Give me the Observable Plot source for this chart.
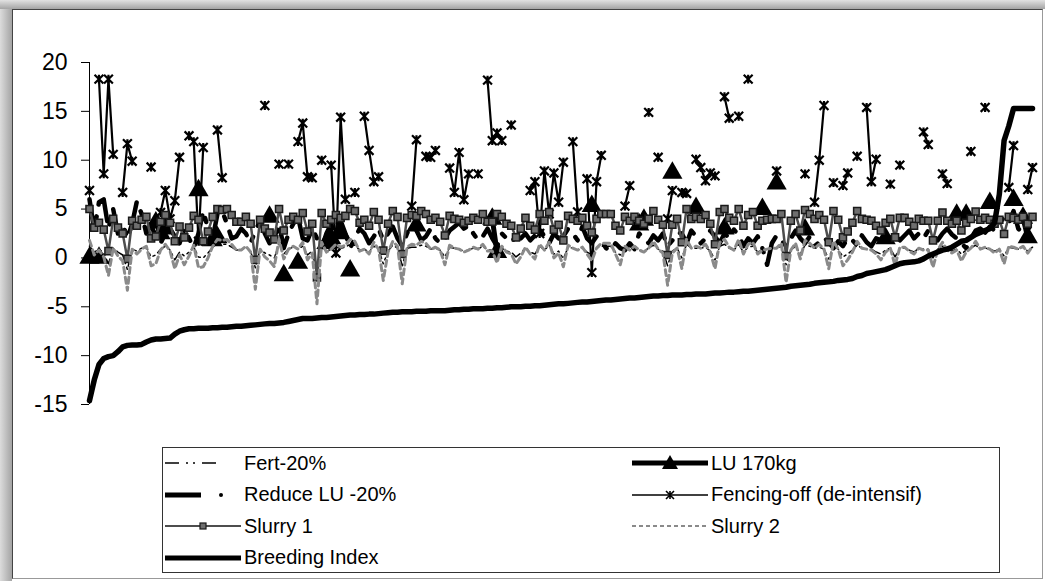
<!DOCTYPE html>
<html><head><meta charset="utf-8">
<script src="https://cdn.jsdelivr.net/npm/d3@7"></script>
<script src="https://cdn.jsdelivr.net/npm/@observablehq/plot@0.6"></script>
<style>
html,body{margin:0;padding:0;background:#fff;}
#page{position:relative;width:1045px;height:581px;overflow:hidden;font-family:"Liberation Sans",Arial,sans-serif;background:#fff;}
.abs{position:absolute;}
#lstrip{left:0;top:0;width:12px;height:581px;background:linear-gradient(to right,#dcdcdc,#a4a4a4);}
#tstrip{left:0;top:0;width:1045px;height:9px;background:linear-gradient(to bottom,#e2e2e2,#a4a4a4);}
#border{left:12px;top:9px;width:1031px;height:570px;box-sizing:border-box;border-top:1px solid #444;border-left:1px solid #444;border-right:1px solid #999;border-bottom:1px solid #999;}
#chart{left:0;top:0;}
#legend{left:162px;top:447px;width:838px;height:126px;box-sizing:border-box;border:1px solid #333;background:#fff;}
.item{position:absolute;height:24px;display:flex;align-items:center;font-size:20px;color:#000;white-space:nowrap;}
.item svg{margin-right:3px;}
</style></head>
<body><div id="page">
<div id="lstrip" class="abs"></div>
<div id="tstrip" class="abs"></div>
<div id="border" class="abs"></div>
<div id="chart" class="abs"></div>
<div id="legend" class="abs"></div>
</div>
<script>
const _ = null;
const yTicks = [-15, -10, -5, 0, 5, 10, 15, 20];
const seriesNames = ["Fert-20%", "LU 170kg", "Reduce LU -20%", "Fencing-off (de-intensif)", "Slurry 1", "Slurry 2", "Breeding Index"];

const fert = [
1.2,0.6,0.9,0.5,-0.6,1.0,0.6,0.3,-1.2,0.9,
0.7,1.0,1.1,0.1,0.3,0.9,1.2,0.8,-0.2,0.6,
0.2,0.6,1.1,0.1,0.0,0.5,1.1,1.5,1.4,1.4,
1.1,0.8,0.8,1.1,0.7,-1.0,0.9,0.5,0.3,0.0,
1.4,0.4,0.9,1.1,0.9,1.2,0.3,0.7,-1.6,1.2,
0.7,0.9,1.1,1.0,1.1,1.4,1.3,0.8,0.9,0.6,
1.2,0.9,-0.6,0.7,1.3,1.0,-0.8,1.0,1.1,1.1,
1.3,1.2,0.9,1.0,0.8,0.1,1.1,1.0,0.9,0.7,
0.8,1.0,0.9,1.2,0.8,0.8,0.2,1.0,0.7,0.6,
0.1,0.5,1.0,0.6,0.4,1.2,0.8,1.3,0.4,0.7,
-0.1,1.1,1.0,0.8,1.0,0.6,0.3,1.0,1.2,1.2,
1.2,0.6,0.3,1.0,0.8,1.0,0.8,0.7,1.0,1.3,
0.9,0.7,-0.8,0.7,1.0,0.0,1.4,1.0,1.0,1.0,
1.1,0.7,-0.2,1.2,1.4,1.0,0.8,1.4,0.6,1.1,
1.2,0.6,0.8,0.9,1.0,1.0,1.2,-0.7,0.8,1.2,
0.4,1.3,1.2,1.0,1.1,0.9,-0.1,1.3,0.9,0.1,
0.4,0.8,1.3,1.0,0.9,0.9,0.6,0.4,0.8,1.0,
0.1,1.0,1.0,0.8,0.6,1.0,0.9,0.9,0.0,0.9,
1.2,0.9,0.7,0.9,0.4,0.8,1.0,1.3,0.9,1.0,
0.9,0.7,0.9,0.2,1.1,1.0,0.9,1.1,0.7,1.1];

const lu170 = [
0,_,0,_,_,_,_,_,_,_,
_,_,_,_,3.6,2.5,3.0,_,_,_,
_,_,_,6.9,_,_,1.8,2.1,_,_,
_,_,_,_,_,_,_,_,4.2,_,
_,-1.8,_,_,-0.5,_,_,_,_,_,
1.5,2.0,_,2.5,_,-1.3,_,_,_,_,
_,_,_,_,_,_,_,_,_,3.3,
_,_,_,_,_,_,_,_,_,_,
_,_,_,_,_,4.0,0.6,_,_,_,
_,_,_,_,_,_,_,_,_,_,
_,_,_,_,_,_,5.3,_,_,_,
_,_,_,_,_,_,3.4,3.9,_,_,
_,_,_,8.7,_,_,_,_,5.1,_,
_,_,_,_,3.0,_,_,_,_,_,
_,_,5.0,_,_,7.6,_,_,_,_,
_,2.9,_,_,_,_,_,_,_,_,
_,_,_,_,_,_,_,_,2.0,_,
_,_,_,_,_,_,_,_,_,_,
_,_,_,4.4,_,4.4,_,_,_,_,
5.6,_,_,_,_,5.9,_,4.1,2.1,_];

const reduceLU = [
6.0,2.8,5.7,6.0,3.0,5.0,2.5,3.5,2.0,3.5,
5.8,4.5,2.5,3.5,2.0,1.5,2.5,3.0,2.2,1.5,
3.0,2.0,1.0,2.5,4.8,3.0,2.0,4.5,4.8,3.5,
2.0,2.2,3.0,2.5,1.5,2.8,3.8,2.5,1.5,2.0,
3.5,1.0,2.5,3.5,4.2,2.0,1.8,3.0,2.0,1.0,
2.5,3.5,1.5,3.8,2.5,1.0,2.0,3.0,2.5,1.5,
2.2,3.0,1.8,2.5,3.2,2.0,1.2,2.5,3.5,2.8,
1.8,2.2,3.0,2.0,1.5,2.0,2.8,3.2,3.6,3.0,
3.3,2.5,1.8,2.2,3.0,2.0,1.2,2.5,2.0,1.6,
2.2,2.0,2.5,1.8,2.3,3.0,2.2,1.5,2.5,2.0,
2.2,3.0,2.5,1.8,3.2,2.0,1.5,2.2,1.8,1.0,
0.8,1.5,1.0,0.8,1.5,0.9,2.5,2.0,1.5,2.3,
1.8,2.5,1.2,1.8,2.6,2.5,1.5,2.8,2.2,1.5,
2.0,2.8,2.2,1.5,2.5,2.0,2.9,2.3,1.2,2.0,
1.5,2.2,1.0,-0.7,1.5,2.3,1.8,1.2,2.0,2.8,
2.0,1.5,2.2,1.2,1.6,2.1,1.6,1.0,1.7,1.2,
2.0,1.8,1.3,2.3,1.6,1.2,2.0,1.8,1.3,2.0,
2.5,1.8,2.3,2.8,2.0,2.5,2.0,2.8,2.2,1.8,
2.5,3.0,2.4,2.0,1.5,1.0,2.0,2.8,3.0,2.6,
3.2,2.8,3.5,4.2,3.6,4.8,3.0,2.5,3.2,2.8];

const fencing = [
6.9,_,18.3,8.6,18.3,10.6,_,6.7,11.7,9.9,
_,_,_,9.3,_,4.65,6.9,4.0,5.85,10.3,
_,12.5,11.9,1.7,11.3,_,_,13.1,8.2,_,
_,_,_,_,_,_,_,15.6,_,_,
9.6,_,9.6,_,11.9,13.8,8.3,8.2,_,10.0,
_,9.5,0.5,14.4,6.0,_,6.7,_,14.5,11.0,
7.8,8.3,_,_,_,_,_,_,5.3,12.1,
_,10.4,10.3,11.0,_,_,9.2,6.7,10.8,5.95,
8.6,_,8.6,_,18.2,12.0,12.8,12.0,_,13.6,
_,_,_,6.9,7.8,2.5,8.9,4.5,8.7,5.7,
9.8,_,11.9,4.7,_,8.1,-1.5,7.8,10.5,_,
_,_,_,5.3,7.4,_,_,_,14.9,_,
10.3,_,4.0,6.9,_,6.7,6.6,_,10.1,9.25,
7.9,8.7,8.4,_,16.5,14.3,_,14.5,_,18.3,
_,_,_,_,_,8.9,_,_,_,_,
_,8.6,_,5.7,10.0,15.6,_,7.7,_,7.4,
8.7,_,10.4,_,15.4,7.8,10.1,_,_,7.55,
_,9.5,_,_,_,_,12.9,11.6,_,_,
8.6,7.6,_,_,_,_,10.9,_,_,15.4,
_,_,_,_,7.2,11.5,_,_,7.0,9.25];

const slurry1 = [
5.0,3.1,3.6,2.9,0.7,4.0,3.1,2.5,-0.1,3.8,
3.3,3.9,4.2,2.0,2.2,3.7,4.4,3.6,1.7,3.2,
2.1,3.1,4.3,3.9,1.7,2.7,4.2,5.0,4.9,5.0,
4.4,3.7,3.7,4.2,3.5,-0.2,3.9,3.0,2.6,1.9,
5.0,2.8,3.9,4.2,3.9,4.6,2.7,3.5,-2.0,4.6,
3.5,3.9,4.4,4.1,4.3,5.0,4.8,3.6,3.9,3.3,
4.7,3.9,0.75,3.5,4.8,4.2,0.4,4.1,4.4,4.3,
4.8,4.5,3.9,4.1,3.7,2.3,4.3,4.0,3.9,3.6,
3.8,4.1,3.9,4.5,3.7,3.7,4.5,4.2,3.5,3.3,
2.1,3.0,4.1,3.3,2.9,4.5,3.8,4.7,2.9,3.4,
1.8,4.3,4.0,3.8,4.1,3.3,2.6,4.0,4.5,4.5,
4.5,3.3,2.8,4.2,3.8,4.2,3.8,3.5,4.0,4.8,
3.9,3.4,0.3,3.4,4.0,1.6,5.0,4.0,4.2,4.0,
4.4,3.5,1.4,4.7,5.0,4.1,3.8,5.0,3.3,4.4,
4.7,3.3,3.8,3.9,4.0,4.0,4.5,0.2,3.8,4.5,
2.8,4.9,4.5,4.0,4.4,3.9,1.6,4.8,3.9,2.1,
2.7,3.6,4.8,4.0,3.9,3.8,3.3,2.8,3.6,4.0,
2.1,4.1,4.1,3.7,3.3,4.0,3.8,3.8,1.8,3.8,
4.65,3.8,3.5,3.8,2.8,3.6,4.0,4.75,3.9,4.1,
3.9,3.5,3.9,2.45,4.2,4.1,3.9,4.2,3.5,4.2];

const slurry2 = [
1.8,0.3,0.8,0.1,-1.8,1.0,0.2,-0.3,-3.3,0.9,
0.4,0.9,1.2,-0.8,-0.6,0.8,1.4,0.7,-1.1,0.3,
-0.7,0.2,1.3,-1.0,-0.9,0.0,1.2,1.9,1.8,1.9,
1.4,0.8,0.8,1.2,0.6,-3.2,0.9,0.1,-0.3,-0.9,
1.9,-0.1,0.9,1.2,0.9,1.6,-0.2,0.5,-4.7,1.6,
0.6,0.9,1.4,1.1,1.3,1.9,1.7,0.7,0.9,0.4,
1.6,0.9,-2.3,0.6,1.7,1.2,-2.65,1.1,1.4,1.3,
1.7,1.5,0.9,1.1,0.8,-0.7,1.3,1.0,0.9,0.6,
0.8,1.1,0.9,1.4,0.7,0.7,-0.5,1.2,0.6,0.4,
-0.6,0.1,1.1,0.4,-0.1,1.4,0.8,1.6,0.0,0.5,
-0.9,1.3,1.0,0.8,1.1,0.4,-0.3,1.0,1.5,1.5,
1.5,0.4,-0.7,1.2,0.8,1.2,0.8,0.6,1.0,1.7,
0.9,0.5,-2.8,0.5,1.0,-1.1,1.9,1.0,1.2,1.0,
1.4,0.6,-1.1,1.6,1.9,1.1,0.8,1.9,0.4,1.4,
1.6,0.4,0.8,0.9,1.0,1.0,1.5,-2.5,0.8,1.5,
-0.1,1.8,1.5,1.0,1.4,0.9,-1.1,1.7,0.9,-0.8,
-0.2,0.6,1.7,1.0,0.9,0.8,0.4,-0.2,0.6,1.0,
-0.8,1.1,1.1,0.7,0.4,1.0,0.8,0.8,-0.95,0.8,
1.6,0.8,0.5,0.8,-0.3,0.6,1.0,1.7,0.9,1.1,
0.9,0.5,0.9,-0.6,1.2,1.1,0.9,1.2,0.5,1.2];

const breeding = [
-14.6,-12.5,-10.9,-10.3,-10.1,-10.0,-9.6,-9.1,-8.95,-8.9,
-8.9,-8.85,-8.6,-8.4,-8.3,-8.3,-8.25,-8.2,-7.8,-7.5,
-7.35,-7.25,-7.25,-7.2,-7.2,-7.2,-7.15,-7.15,-7.1,-7.1,
-7.05,-7.0,-7.0,-6.95,-6.9,-6.85,-6.8,-6.75,-6.7,-6.7,
-6.65,-6.6,-6.5,-6.4,-6.3,-6.2,-6.2,-6.2,-6.15,-6.1,
-6.1,-6.05,-6.0,-5.95,-5.9,-5.85,-5.85,-5.8,-5.8,-5.75,
-5.75,-5.7,-5.65,-5.6,-5.55,-5.55,-5.5,-5.5,-5.5,-5.45,
-5.45,-5.45,-5.4,-5.4,-5.4,-5.4,-5.35,-5.3,-5.3,-5.25,
-5.25,-5.2,-5.2,-5.2,-5.15,-5.15,-5.1,-5.1,-5.05,-5.0,
-5.0,-5.0,-4.95,-4.95,-4.9,-4.9,-4.85,-4.8,-4.75,-4.7,
-4.7,-4.65,-4.6,-4.55,-4.5,-4.5,-4.45,-4.4,-4.35,-4.3,
-4.3,-4.25,-4.2,-4.15,-4.1,-4.1,-4.05,-4.0,-3.95,-3.9,
-3.9,-3.85,-3.85,-3.8,-3.8,-3.8,-3.75,-3.75,-3.7,-3.7,
-3.7,-3.65,-3.6,-3.6,-3.55,-3.5,-3.5,-3.45,-3.4,-3.4,
-3.35,-3.3,-3.25,-3.2,-3.15,-3.1,-3.05,-3.0,-2.9,-2.85,
-2.8,-2.75,-2.7,-2.6,-2.55,-2.5,-2.45,-2.4,-2.3,-2.25,
-2.2,-2.1,-1.9,-1.8,-1.6,-1.5,-1.4,-1.3,-1.2,-1.0,
-0.8,-0.6,-0.5,-0.45,-0.4,-0.3,-0.1,0.2,0.4,0.6,
0.8,0.9,1.1,1.4,1.7,1.8,2.1,2.4,2.6,2.8,
3.0,3.6,6.5,12.0,13.5,15.3,15.3,15.3,15.3,15.3];

// Excel-style "star" marker: an x with a vertical bar
const star = {
  draw(ctx, size) {
    const r = Math.sqrt(size) / 2;
    ctx.moveTo(-r, -r); ctx.lineTo(r, r);
    ctx.moveTo(r, -r); ctx.lineTo(-r, r);
    ctx.moveTo(0, -r); ctx.lineTo(0, r);
  }
};

const idx = d3.range(breeding.length);
const has = arr => idx.filter(i => arr[i] != null);

const chart = Plot.plot({
  width: 1045, height: 420,
  marginLeft: 89, marginRight: 13, marginTop: 62, marginBottom: 16,
  style: {background: "transparent", fontFamily: "'Liberation Sans', Arial, sans-serif", fontSize: "23px", color: "#000", overflow: "visible"},
  x: {domain: [0, breeding.length - 1], axis: null},
  y: {domain: [-15, 20], axis: null},
  marks: [
    Plot.axisY({ticks: yTicks, tickSize: 8, tickPadding: 14, tickFormat: d => String(d), label: null, fontSize: 23}),
    Plot.ruleX([0], {y1: -15, y2: 20, stroke: "#000", strokeWidth: 1}),
    Plot.line(idx, {x: i => i, y: i => fert[i], stroke: "#000", strokeWidth: 1.5, strokeDasharray: "10,4,2,4,2,4"}),
    Plot.line(idx, {x: i => i, y: i => lu170[i], stroke: "#000", strokeWidth: 5}),
    Plot.dot(has(lu170), {x: i => i, y: i => lu170[i], symbol: "triangle", r: 7.5, fill: "#000", stroke: "none"}),
    Plot.line(idx, {x: i => i, y: i => reduceLU[i], stroke: "#000", strokeWidth: 4.5, strokeDasharray: "30,12,4,12"}),
    Plot.line(idx, {x: i => i, y: i => fencing[i], stroke: "#000", strokeWidth: 2.2}),
    Plot.dot(has(fencing), {x: i => i, y: i => fencing[i], symbol: star, r: 5, stroke: "#000", strokeWidth: 2.2, fill: "none"}),
    Plot.line(idx, {x: i => i, y: i => slurry1[i], stroke: "#4d4d4d", strokeWidth: 2.5}),
    Plot.dot(idx, {x: i => i, y: i => slurry1[i], symbol: "square", r: 4, fill: "#6e6e6e", stroke: "#1a1a1a", strokeWidth: 1.5}),
    Plot.line(idx, {x: i => i, y: i => slurry2[i], stroke: "#8a8a8a", strokeWidth: 3, strokeDasharray: "6,4"}),
    Plot.line(idx, {x: i => i, y: i => breeding[i], stroke: "#000", strokeWidth: 5.5, strokeLinejoin: "round"})
  ]
});
document.getElementById("chart").appendChild(chart);

// Legend
const ns = "http://www.w3.org/2000/svg";
function sample(kind) {
  const s = document.createElementNS(ns, "svg");
  s.setAttribute("width", 76); s.setAttribute("height", 20);
  const add = (tag, attrs) => { const e = document.createElementNS(ns, tag); for (const k in attrs) e.setAttribute(k, attrs[k]); s.appendChild(e); return e; };
  const line = (attrs) => add("line", Object.assign({x1: 0, x2: 76, y1: 10, y2: 10}, attrs));
  if (kind === 0) line({stroke: "#000", "stroke-width": 1.6, "stroke-dasharray": "14,7,2,5,2,7,14,30"});
  if (kind === 1) { line({stroke: "#000", "stroke-width": 5}); add("path", {d: "M38,2 L46,16 L30,16 Z", fill: "#000"}); }
  if (kind === 2) { line({x2: 36, stroke: "#000", "stroke-width": 5}); add("circle", {cx: 56, cy: 10, r: 2, fill: "#000"}); }
  if (kind === 3) { line({stroke: "#000", "stroke-width": 1.6}); add("path", {d: "M34,6 L42,14 M42,6 L34,14 M38,6 L38,14", stroke: "#000", "stroke-width": 1.6}); }
  if (kind === 4) { line({stroke: "#4d4d4d", "stroke-width": 2}); add("rect", {x: 35, y: 7, width: 6, height: 6, fill: "#6e6e6e", stroke: "#1a1a1a", "stroke-width": 1.2}); }
  if (kind === 5) line({stroke: "#8a8a8a", "stroke-width": 2, "stroke-dasharray": "4,3"});
  if (kind === 6) line({stroke: "#000", "stroke-width": 5});
  return s;
}
const legend = document.getElementById("legend");
const rowY = [3, 34.5, 66, 97.5];
const colX = [2, 469];
seriesNames.forEach((name, k) => {
  const row = Math.floor(k / 2), col = k % 2;
  const d = document.createElement("div");
  d.className = "item";
  d.style.left = colX[col] + "px";
  d.style.top = rowY[row] + "px";
  d.appendChild(sample(k));
  const t = document.createElement("span"); t.textContent = name; d.appendChild(t);
  legend.appendChild(d);
});
</script>
</body></html>
